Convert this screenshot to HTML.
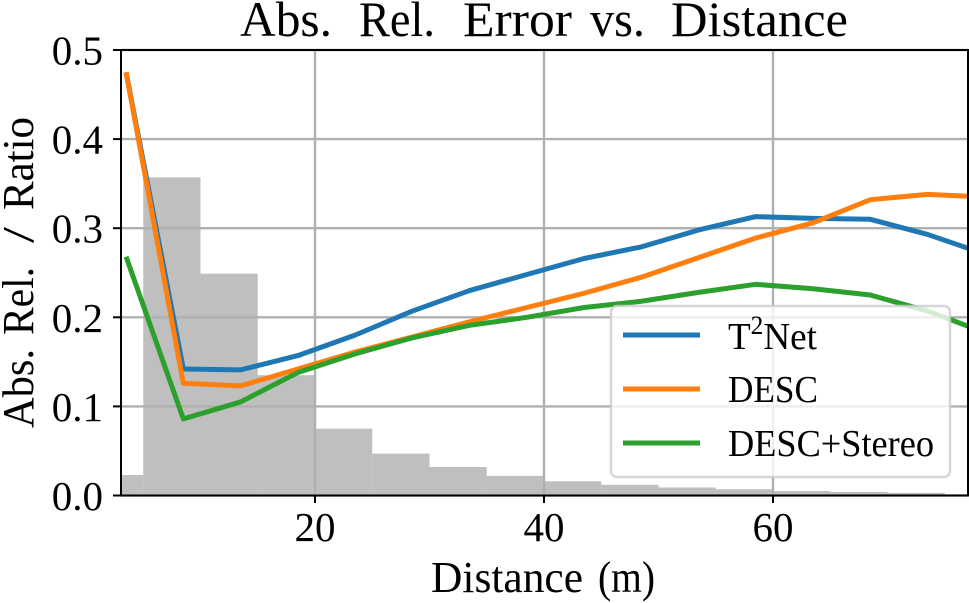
<!DOCTYPE html>
<html>
<head>
<meta charset="utf-8">
<title>Abs. Rel. Error vs. Distance</title>
<style>
html,body{margin:0;padding:0;background:#fff;}
svg{display:block;}
text{font-family:"Liberation Serif",serif;fill:#000;}
</style>
</head>
<body>
<svg id="chart" width="969" height="603" viewBox="0 0 969 603" xmlns="http://www.w3.org/2000/svg">
  <defs><clipPath id="plot-clip"><rect x="121" y="50" width="847" height="445.5"/></clipPath></defs>
  <g id="hist" clip-path="url(#plot-clip)"></g>
  <g id="grid"></g>
  <g id="series" clip-path="url(#plot-clip)"></g>
  <g id="axes"></g>
  <text y="36" font-size="50" lengthAdjust="spacingAndGlyphs"><tspan x="240" textLength="92" lengthAdjust="spacingAndGlyphs">Abs.</tspan> <tspan x="359" textLength="76" lengthAdjust="spacingAndGlyphs">Rel.</tspan> <tspan x="463" textLength="109" lengthAdjust="spacingAndGlyphs">Error</tspan> <tspan x="590" textLength="55" lengthAdjust="spacingAndGlyphs">vs.</tspan> <tspan x="671" textLength="177" lengthAdjust="spacingAndGlyphs">Distance</tspan></text>
  <text y="592" font-size="44"><tspan x="431" textLength="152" lengthAdjust="spacingAndGlyphs">Distance</tspan> <tspan x="598" textLength="57" lengthAdjust="spacingAndGlyphs">(m)</tspan></text>
  <text transform="translate(33,429) rotate(-90)" font-size="44"><tspan x="1" textLength="79" lengthAdjust="spacingAndGlyphs">Abs.</tspan> <tspan x="94" textLength="68" lengthAdjust="spacingAndGlyphs">Rel.</tspan> <tspan x="186" textLength="16" lengthAdjust="spacingAndGlyphs">/</tspan> <tspan x="219" textLength="93" lengthAdjust="spacingAndGlyphs">Ratio</tspan></text>
  <g id="legend">
    <rect x="611" y="306" width="339" height="171" rx="6" ry="6" fill="#fff" fill-opacity="0.8" stroke="#ccc" stroke-opacity="0.8" stroke-width="2.5"/>
    <g>
      <line x1="623" x2="700" y1="335" y2="335" stroke="#1f77b4" stroke-width="5"/>
      <text x="728" y="349" font-size="38" textLength="89" lengthAdjust="spacingAndGlyphs">T<tspan font-size="26" dy="-15">2</tspan><tspan dy="15">Net</tspan></text>
    </g>
    <g>
      <line x1="623" x2="700" y1="389" y2="389" stroke="#ff7f0e" stroke-width="5"/>
      <text x="728" y="402" font-size="38" textLength="90" lengthAdjust="spacingAndGlyphs">DESC</text>
    </g>
    <g>
      <line x1="623" x2="700" y1="443" y2="443" stroke="#2ca02c" stroke-width="5"/>
      <text x="728" y="456" font-size="38" textLength="206" lengthAdjust="spacingAndGlyphs">DESC+Stereo</text>
    </g>
  </g>
</svg>
<script>
const xTicks = [20, 40, 60];
const yTicks = [0.0, 0.1, 0.2, 0.3, 0.4, 0.5];
const yTickLabels = ["0.0", "0.1", "0.2", "0.3", "0.4", "0.5"];
const distances = [3.5, 8.5, 13.5, 18.5, 23.5, 28.5, 33.5, 38.5, 43.5, 48.5, 53.5, 58.5, 63.5, 68.5, 73.5, 78.5];
const t2net = [0.475, 0.142, 0.141, 0.157, 0.180, 0.207, 0.230, 0.248, 0.266, 0.279, 0.298, 0.313, 0.311, 0.310, 0.293, 0.271];
const desc = [0.475, 0.126, 0.123, 0.142, 0.161, 0.178, 0.195, 0.211, 0.227, 0.245, 0.267, 0.289, 0.306, 0.332, 0.338, 0.335];
const descStereo = [0.268, 0.086, 0.105, 0.138, 0.159, 0.177, 0.191, 0.200, 0.211, 0.218, 0.228, 0.237, 0.232, 0.225, 0.207, 0.183];
const histEdges = [0, 5, 10, 15, 20, 25, 30, 35, 40, 45, 50, 55, 60, 65, 70, 75, 80];
const histHeights = [0.023, 0.357, 0.249, 0.135, 0.075, 0.047, 0.032, 0.022, 0.016, 0.012, 0.009, 0.007, 0.005, 0.004, 0.003, 0.001];

const NS = 'http://www.w3.org/2000/svg';
const xPos = v => 315 + (v - 20) * 11.45;
const yPos = v => 495.5 - v * 891;
function make(tag, attrs, parent) {
  const el = document.createElementNS(NS, tag);
  for (const k in attrs) el.setAttribute(k, attrs[k]);
  parent.appendChild(el);
  return el;
}
const gridG = document.getElementById('grid');
const histG = document.getElementById('hist');
const seriesG = document.getElementById('series');
const axesG = document.getElementById('axes');

xTicks.forEach(t => {
  const g = make('line', {x1: xPos(t), x2: xPos(t), y1: 50, y2: 495.5, stroke: '#b0b0b0', 'stroke-width': 2.4}, gridG);
  
  
  const m = make('line', {x1: xPos(t), x2: xPos(t), y1: 495.5, y2: 503, stroke: '#000', 'stroke-width': 2}, axesG);
  
  
  const l = make('text', {x: xPos(t), y: 541, 'text-anchor': 'middle', 'font-size': 41}, axesG);
  
  
  l.textContent = String(t);
});
yTicks.forEach((t, i) => {
  const g = make('line', {x1: 121, x2: 968, y1: yPos(t), y2: yPos(t), stroke: '#b0b0b0', 'stroke-width': 2.4}, gridG);
  
  
  const m = make('line', {x1: 113, x2: 121, y1: yPos(t), y2: yPos(t), stroke: '#000', 'stroke-width': 2}, axesG);
  
  
  const l = make('text', {x: 103, y: yPos(t) + 14.5, 'text-anchor': 'end', 'font-size': 41}, axesG);
  
  
  l.textContent = yTickLabels[i];
});
histHeights.forEach((h, i) => {
  const x0 = xPos(histEdges[i]), x1 = xPos(histEdges[i + 1]);
  const r = make('rect', {x: x0, y: yPos(h), width: x1 - x0, height: yPos(0) - yPos(h), fill: '#808080', 'fill-opacity': 0.5}, histG);
  
  
});
function drawLine(values, color, name) {
  const pts = values.map((v, i) => xPos(distances[i]).toFixed(2) + ',' + yPos(v).toFixed(2)).join(' ');
  const p = make('polyline', {points: pts, fill: 'none', stroke: color, 'stroke-width': 5, 'stroke-linejoin': 'round'}, seriesG);
  
  
}
drawLine(t2net, '#1f77b4', 't2net-line');
drawLine(desc, '#ff7f0e', 'desc-line');
drawLine(descStereo, '#2ca02c', 'desc-stereo-line');

const frame = make('rect', {x: 121, y: 50, width: 847, height: 445.5, fill: 'none', stroke: '#000', 'stroke-width': 2}, axesG);


</script>
</body>
</html>
